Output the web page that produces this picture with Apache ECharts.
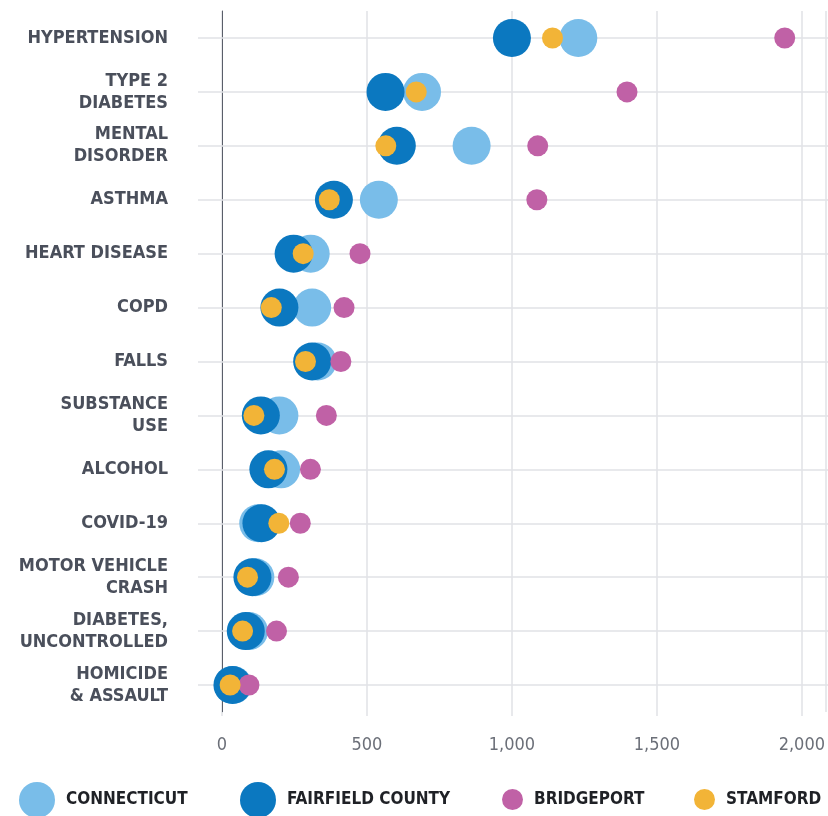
<!DOCTYPE html>
<html>
<head>
<meta charset="utf-8">
<script src="https://cdn.jsdelivr.net/npm/echarts@6/dist/echarts.min.js"></script>
<style>
  html, body { margin: 0; padding: 0; background: #fff; }
  #chart { width: 828px; height: 816px; }
</style>
</head>
<body>
<div id="chart"></div>
<script>
  var categories = ['HYPERTENSION', 'TYPE 2\nDIABETES', 'MENTAL\nDISORDER', 'ASTHMA', 'HEART DISEASE', 'COPD', 'FALLS',
    'SUBSTANCE\nUSE', 'ALCOHOL', 'COVID-19', 'MOTOR VEHICLE\nCRASH', 'DIABETES,\nUNCONTROLLED', 'HOMICIDE\n& ASSAULT'];
  var connecticut = [1229, 690, 861, 541, 306, 311, 330, 198, 204, 125, 115, 93, 38];
  var fairfield = [1000, 564, 603, 386, 247, 198, 311, 134, 160, 136, 105, 82, 36];
  var bridgeport = [1941, 1397, 1089, 1086, 476, 421, 410, 360, 305, 270, 229, 188, 93];
  var stamford = [1140, 670, 565, 370, 280, 170, 288, 110, 181, 196, 88, 71, 28];
  var xTicks = [0, 500, 1000, 1500, 2000];

  var font = "'DejaVu Sans Condensed', 'Liberation Sans Narrow', sans-serif";
  var gridColor = '#e1e2e6';

  var myChart = echarts.init(document.getElementById('chart'));

  function toPoints(values) {
    return values.map(function (v, i) { return [v, i]; });
  }

  function dotSeries(name, values, color, size, z) {
    return {
      name: name,
      type: 'scatter',
      data: toPoints(values),
      symbolSize: size,
      itemStyle: { color: color, opacity: 1 },
      z: z,
      emphasis: { disabled: true }
    };
  }

  function legendItem(name, left, top, size) {
    return {
      data: [name],
      left: left,
      top: top,
      padding: 0,
      icon: 'circle',
      itemWidth: size,
      itemHeight: size,
      selectedMode: false,
      textStyle: {
        fontFamily: font,
        fontWeight: 'bold',
        fontSize: 17,
        color: '#1f2126',
        padding: [0, 0, 0, 6]
      }
    };
  }

  var option = {
    animation: false,
    grid: { left: 222, right: 0, top: 11, bottom: 104 },
    xAxis: {
      type: 'value',
      min: 0,
      max: 2083,
      interval: 500,
      axisLine: { show: false },
      axisTick: { show: true, length: 4, lineStyle: { color: gridColor, width: 1.5 } },
      splitLine: { show: true, lineStyle: { color: gridColor, width: 1.5 } },
      axisLabel: {
        margin: 24,
        fontFamily: font,
        fontSize: 18,
        color: '#6b6f78',
        showMaxLabel: false,
        formatter: function (v) {
          return xTicks.indexOf(v) >= 0 ? v.toLocaleString('en-US') : '';
        }
      }
    },
    yAxis: [{
      type: 'category',
      data: categories,
      inverse: true,
      position: 'left',
      axisLine: { show: true, lineStyle: { color: '#5a5f6a', width: 1 } },
      axisTick: { show: true, inside: true, alignWithLabel: true, length: 606, lineStyle: { color: gridColor, width: 1.5 } },
      splitLine: { show: false },
      axisLabel: {
        margin: 54,
        fontFamily: font,
        fontWeight: 'bold',
        fontSize: 18,
        lineHeight: 22,
        color: '#4a4f5b'
      }
    }, {
      type: 'category',
      data: categories,
      inverse: true,
      position: 'left',
      axisLine: { show: false },
      axisTick: { show: true, alignWithLabel: true, length: 24, lineStyle: { color: gridColor, width: 1.5 } },
      splitLine: { show: false },
      axisLabel: { show: false }
    }],
    legend: [
      legendItem('CONNECTICUT', 19, 782, 36),
      legendItem('FAIRFIELD COUNTY', 240, 782, 36),
      legendItem('BRIDGEPORT', 502, 789, 21),
      legendItem('STAMFORD', 694, 789, 21)
    ],
    series: [
      dotSeries('CONNECTICUT', connecticut, '#79bde9', 38, 2),
      dotSeries('FAIRFIELD COUNTY', fairfield, '#0b78c0', 38, 3),
      dotSeries('BRIDGEPORT', bridgeport, '#c061a6', 21, 4),
      dotSeries('STAMFORD', stamford, '#f2b437', 21, 5)
    ]
  };

  myChart.setOption(option);
</script>
</body>
</html>
